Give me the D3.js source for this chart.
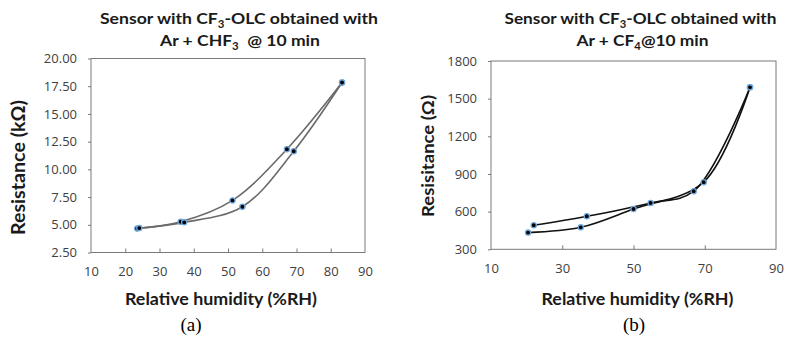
<!DOCTYPE html>
<html><head><meta charset="utf-8">
<script src="https://cdn.jsdelivr.net/npm/d3@7"></script>
<style>
html,body{margin:0;padding:0;background:#fff;}
svg{display:block;}
text{font-family:Lato,"Open Sans",sans-serif;}
</style></head>
<body><svg id="c" width="785" height="337"></svg>
<script>
// ---- Panel (a) data: Ar + CHF3 ----
const aX1 = [23.5, 36.2, 51.3, 67.2, 83.3];
const aY1 = [4.66, 5.27, 7.20, 11.82, 17.83];
const aX2 = [24.1, 37.2, 54.2, 69.2, 83.3];
const aY2 = [4.70, 5.22, 6.63, 11.64, 17.83];
const aXTicks = [10, 20, 30, 40, 50, 60, 70, 80, 90];
const aYTicks = [2.5, 5, 7.5, 10, 12.5, 15, 17.5, 20];

// ---- Panel (b) data: Ar + CF4 ----
const bX1 = [20.4, 35.2, 50.0, 69.7, 82.7];
const bY1 = [433, 475, 621, 835, 1590];
const bX2 = [22.0, 36.9, 54.8, 66.9, 82.7];
const bY2 = [491, 563, 669, 763, 1590];
const bXTicks = [10, 30, 50, 70, 90];
const bYTicks = [300, 600, 900, 1200, 1500, 1800];

const svg = d3.select("#c");

function panel(cfg) {
  const x = d3.scaleLinear().domain(cfg.xDom).range([cfg.left, cfg.right]);
  const y = d3.scaleLinear().domain(cfg.yDom).range([cfg.bottom, cfg.top]);
  const g = svg.append("g");

  const ya = g.append("g").attr("transform", `translate(${cfg.left},0)`)
    .call(d3.axisLeft(y).tickValues(cfg.yTicks).tickSize(3).tickPadding(11).tickFormat(cfg.yFmt));
  const xa = g.append("g").attr("transform", `translate(0,${cfg.bottom})`)
    .call(d3.axisBottom(x).tickValues(cfg.xTicks).tickSize(-4).tickPadding(14).tickFormat(d3.format("d")));
  [ya, xa].forEach(a => {
    a.select(".domain").remove();
    a.selectAll(".tick line").attr("stroke", "#7a7a7a");
    a.selectAll(".tick text").attr("fill", "#404040").style("font-size", "13px")
      .style("font-family", '"Open Sans",sans-serif');
  });
  xa.selectAll(".tick line").filter(d => d === cfg.xDom[0] || d === cfg.xDom[1]).remove();

  g.append("rect").attr("x", cfg.left).attr("y", cfg.top)
    .attr("width", cfg.right - cfg.left).attr("height", cfg.bottom - cfg.top)
    .attr("fill", "none").attr("stroke", "#7a7a7a").attr("stroke-width", 1);

  const line = d3.line().x(d => x(d[0])).y(d => y(d[1])).curve(d3.curveCatmullRom.alpha(0.5));
  cfg.series.forEach(s => {
    const pts = s[0].map((v, i) => [v, s[1][i]]);
    g.append("path").attr("d", line(pts)).attr("fill", "none")
      .attr("stroke", cfg.lineColor).attr("stroke-width", 1.6);
  });
  cfg.series.forEach(s => {
    const pts = s[0].map((v, i) => [v, s[1][i]]);
    g.selectAll(null).data(pts).enter().append("circle")
      .attr("cx", d => x(d[0])).attr("cy", d => y(d[1])).attr("r", 2.6)
      .attr("fill", "#000").attr("stroke", "#6fa8dc").attr("stroke-width", 1.3);
  });

  cfg.titles.forEach(t => {
    const tx = g.append("text").attr("x", t.x).attr("y", t.y).attr("text-anchor", "middle")
      .style("font-size", t.size + "px").style("font-weight", "bold").attr("fill", "#1a1a1a");
    let shift = 0;
    t.parts.forEach(p => {
      if (p.sub) {
        tx.append("tspan").attr("dy", 4).style("font-size", (t.size * 0.65) + "px").text(p.sub);
        shift = -4;
      } else {
        tx.append("tspan").attr("dy", shift).text(p.t);
        shift = 0;
      }
    });
    tx.attr("textLength", t.w).attr("lengthAdjust", "spacingAndGlyphs");
  });

  g.append("text").attr("x", cfg.xl.x).attr("y", cfg.xl.y).attr("text-anchor", "middle")
    .style("font-size", cfg.xl.size + "px").style("font-weight", "bold").attr("fill", "#1a1a1a")
    .attr("textLength", cfg.xl.w).attr("lengthAdjust", "spacingAndGlyphs").text(cfg.xl.text);
  g.append("text").attr("transform", `translate(${cfg.yl.x},${cfg.yl.y}) rotate(-90)`)
    .attr("text-anchor", "middle")
    .style("font-size", cfg.yl.size + "px").style("font-weight", "bold").attr("fill", "#1a1a1a")
    .attr("textLength", cfg.yl.w).attr("lengthAdjust", "spacingAndGlyphs").text(cfg.yl.text);
  g.append("text").attr("x", cfg.pl.x).attr("y", cfg.pl.y).attr("text-anchor", "middle")
    .style("font-family", '"Liberation Serif","DejaVu Serif",serif').style("font-size", "19px")
    .attr("fill", "#000").text(cfg.pl.text);
}

panel({
  xDom: [10, 90], yDom: [2.5, 20], left: 91, right: 365, top: 58.5, bottom: 252.5,
  xTicks: aXTicks, yTicks: aYTicks, yFmt: d3.format(".2f"),
  series: [[aX1, aY1], [aX2, aY2]], lineColor: "#6a6a6a",
  titles: [
    {x: 239, y: 24, size: 16, w: 278, parts: [{t: "Sensor with CF"}, {sub: "3"}, {t: "-OLC obtained with"}]},
    {x: 240, y: 46, size: 16, w: 160, parts: [{t: "Ar + CHF"}, {sub: "3"}, {t: "\u00a0 @ 10 min"}]}
  ],
  xl: {x: 221, y: 305, size: 17, w: 192, text: "Relative humidity (%RH)"},
  yl: {x: 25, y: 167.5, size: 19, w: 135, text: "Resistance (k\u03a9)"},
  pl: {x: 191, y: 331, text: "(a)"}
});

panel({
  xDom: [10, 90], yDom: [300, 1800], left: 491, right: 776, top: 61, bottom: 249.3,
  xTicks: bXTicks, yTicks: bYTicks, yFmt: d3.format("d"),
  series: [[bX1, bY1], [bX2, bY2]], lineColor: "#111",
  titles: [
    {x: 640.5, y: 24, size: 16, w: 272, parts: [{t: "Sensor with CF"}, {sub: "3"}, {t: "-OLC obtained with"}]},
    {x: 642.5, y: 46, size: 16, w: 132, parts: [{t: "Ar + CF"}, {sub: "4"}, {t: "@10 min"}]}
  ],
  xl: {x: 637.5, y: 305, size: 17, w: 192, text: "Relative humidity (%RH)"},
  yl: {x: 434, y: 156, size: 17, w: 122, text: "Resisitance (\u03a9)"},
  pl: {x: 634, y: 331, text: "(b)"}
});
</script></body></html>
